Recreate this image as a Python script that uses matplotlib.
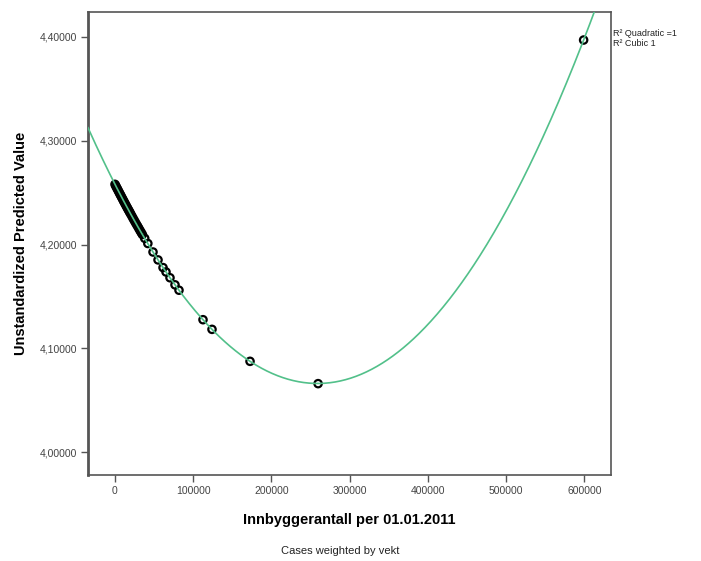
import numpy as np
import matplotlib
matplotlib.use("Agg")
import matplotlib.pyplot as plt
from matplotlib.ticker import FuncFormatter

plt.rcParams["font.family"] = ["Liberation Sans", "DejaVu Sans"]

# population (x) and predicted value (y)
pop = [0, 1000, 2000, 3000, 4000, 5000, 6000, 7000, 8000, 9000, 10000,
       11000, 12000, 13000, 14000, 15000, 16000, 17000, 18000, 19000,
       20000, 21500, 23000, 24500, 26000, 27500, 29000, 30500, 32000,
       33500, 35000, 38000, 42000,
       48600, 55000, 61400, 65200, 70300, 76700, 81800,
       112500, 124000, 172600, 259600, 599000]
pred = [4.2580, 4.2565, 4.2550, 4.2536, 4.2521, 4.2507, 4.2492, 4.2478,
        4.2463, 4.2449, 4.2435, 4.2420, 4.2406, 4.2392, 4.2378, 4.2364,
        4.2350, 4.2336, 4.2323, 4.2309, 4.2295, 4.2275, 4.2254, 4.2234,
        4.2214, 4.2194, 4.2175, 4.2155, 4.2135, 4.2116, 4.2097,
        4.2060, 4.2010, 4.1928, 4.1852, 4.1778, 4.1736, 4.1680, 4.1612,
        4.1560, 4.1276, 4.1183, 4.0875, 4.0660, 4.3970]

x_ticks = [0, 100000, 200000, 300000, 400000, 500000, 600000]
y_ticks = [4.0, 4.1, 4.2, 4.3, 4.4]
legend_lines = ["R² Quadratic =1", "R² Cubic 1"]

fig = plt.figure(figsize=(7.01, 5.61), dpi=100)
ax = fig.add_axes([88 / 701, 1 - 475 / 561, (611 - 88) / 701, (475 - 12) / 561])

xlo, xhi = -34500, 634000
ylo, yhi = 3.978, 4.424

# quadratic fit line, drawn over the markers like the SPSS output
coef = np.polyfit(pop, pred, 2)
xs = np.linspace(xlo, xhi, 600)
ax.plot(xs, np.polyval(coef, xs), color="#52c08a", lw=1.2, zorder=4)
ax.scatter(pop, pred, s=28, facecolors="none", edgecolors="black",
           linewidths=1.6, zorder=3)

ax.set_xlim(xlo, xhi)
ax.set_ylim(ylo, yhi)
ax.set_xticks(x_ticks)
ax.set_yticks(y_ticks)
ax.yaxis.set_major_formatter(FuncFormatter(lambda v, p: f"{v:.5f}".replace(".", ",")))
ax.xaxis.set_major_formatter(FuncFormatter(lambda v, p: f"{int(v)}"))
ax.tick_params(direction="out", length=5, width=1, color="#555555",
               labelsize=7.5, labelcolor="#444444", pad=3)
for s in ax.spines.values():
    s.set_color("#555555")
    s.set_linewidth(1.2)
ax.spines["left"].set_linewidth(2)

ax.set_xlabel("Innbyggerantall per 01.01.2011", fontsize=10.5,
              fontweight="bold", labelpad=12)
ax.set_ylabel("Unstandardized Predicted Value", fontsize=10.5,
              fontweight="bold", labelpad=8)

fig.text(340 / 701, 1 - 551 / 561, "Cases weighted by vekt", fontsize=8,
         ha="center", va="center", color="#222222")
for i, t in enumerate(legend_lines):
    fig.text(613 / 701, 1 - (33 + i * 11) / 561, t, fontsize=6.5,
             ha="left", va="center", color="#222222")

fig.savefig("out.png", dpi=100)
